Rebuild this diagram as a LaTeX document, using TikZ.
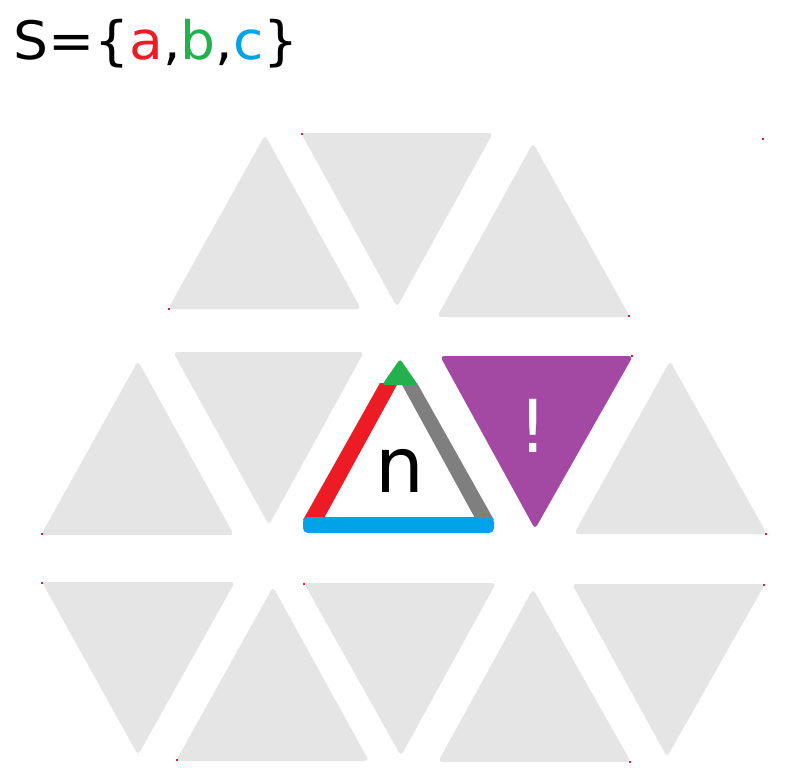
\documentclass[tikz,border=0pt]{standalone}
\usepackage{fontspec}
\setmainfont{DejaVu Sans}
\definecolor{pred}{HTML}{ED1C24}
\definecolor{pgreen}{HTML}{22B14C}
\definecolor{pblue}{HTML}{00A2E8}
\definecolor{pgrey}{HTML}{7F7F7F}
\definecolor{ppurple}{HTML}{A349A4}
\definecolor{tile}{HTML}{E5E5E5}
\tikzset{
  tilefill/.style={fill=tile, rounded corners=4pt},
  dot/.style={fill=pred},
  txt/.style={inner sep=0pt, anchor=base}
}
\begin{document}
\begin{tikzpicture}[x=1pt,y=-1pt]
\useasboundingbox[fill=white] (0,0) rectangle (789,781);
% title
\node[txt, anchor=base west] (title) at (13,60) {\scalebox{1.04}[1]{\fontsize{53}{60}\selectfont S=\{\textcolor{pred}{a},\textcolor{pgreen}{b},\textcolor{pblue}{c}\}}};
% row 1
\fill[tilefill] (265,135) -- (361,309) -- (168,309) -- cycle;
\fill[tilefill] (301,133) -- (493,133) -- (397,307) -- cycle;
\fill[tilefill] (533,143) -- (630,317) -- (437,317) -- cycle;
% row 2
\fill[tilefill] (138,361) -- (234,535) -- (41,535) -- cycle;
\fill[tilefill] (173,352) -- (364,352) -- (269,525) -- cycle;
\fill[fill=ppurple, rounded corners=4pt] (440,356) -- (633,356) -- (535,529) -- cycle;
\fill[tilefill] (670,361) -- (767,534) -- (574,534) -- cycle;
% row 3
\fill[tilefill] (42,582) -- (235,582) -- (138,755) -- cycle;
\fill[tilefill] (273,587) -- (369,761) -- (176,761) -- cycle;
\fill[tilefill] (304,583) -- (496,583) -- (401,756) -- cycle;
\fill[tilefill] (533,589) -- (631,762) -- (438,762) -- cycle;
\fill[tilefill] (572,584) -- (765,584) -- (667,757) -- cycle;
% centre triangle
\fill[pred] (380,383) -- (398,383) -- (323,520) -- (303,520) -- cycle;
\fill[pgrey] (401,383) -- (417,383) -- (494,520) -- (476,520) -- cycle;
\fill[pgreen, rounded corners=3pt] (400,359) -- (418,385) -- (382,385) -- cycle;
\fill[pblue, rounded corners=5pt] (303,517) rectangle (494,533);
% labels
\node[txt] (n) at (400,492) {\fontsize{77}{80}\selectfont n};
\node[txt, white] (bang) at (533,452) {\fontsize{73}{80}\selectfont !};
% small red dots
\foreach \p in {(302,134),(169,309),(629,316),(763,139),(42,534),(632,356),(766,534),(42,583),(177,760),(304,584),(630,762),(764,585)}
  \fill[dot] \p ++(-1,-1) rectangle ++(2,2);
\end{tikzpicture}
\end{document}
